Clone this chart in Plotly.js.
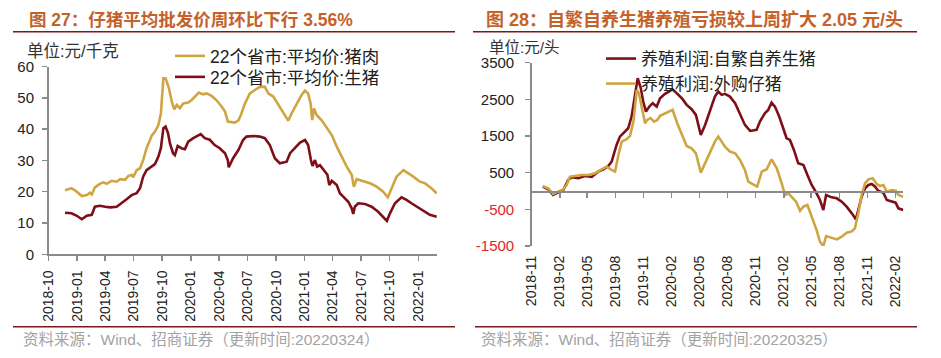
<!DOCTYPE html>
<html><head><meta charset="utf-8">
<script src="https://cdn.plot.ly/plotly-3.0.1.min.js"></script>
<style>html,body{margin:0;padding:0;background:#fff;}#chart{width:941px;height:358px;}</style>
</head><body><div id="chart"></div>
<script>
// ---------- Data: 图27 (元/千克) ----------
const porkDates = ['2018-11-23','2018-12-14','2018-12-31','2019-01-16','2019-02-01','2019-02-11','2019-02-17','2019-02-27','2019-03-15','2019-03-26',
'2019-04-06','2019-04-22','2019-05-08','2019-05-19','2019-06-04','2019-06-14','2019-06-25','2019-06-30','2019-07-11','2019-07-22',
'2019-08-01','2019-08-12','2019-08-23','2019-08-28','2019-09-08','2019-09-19','2019-09-27','2019-10-05','2019-10-12','2019-10-23',
'2019-11-01','2019-11-09','2019-11-17','2019-11-27','2019-12-08','2019-12-24','2020-01-04','2020-01-15','2020-01-27','2020-02-10',
'2020-02-21','2020-03-08','2020-03-24','2020-04-09','2020-04-20','2020-04-29','2020-05-22','2020-06-02','2020-06-10','2020-06-23',
'2020-07-09','2020-07-25','2020-08-10','2020-08-26','2020-09-06','2020-09-22','2020-10-08','2020-10-24','2020-11-09','2020-11-20',
'2020-12-06','2020-12-22','2021-01-02','2021-01-12','2021-01-20','2021-01-25','2021-01-31','2021-02-08','2021-02-24','2021-03-13',
'2021-03-29','2021-04-14','2021-04-30','2021-05-16','2021-06-01','2021-06-08','2021-06-17','2021-07-08','2021-07-30','2021-08-20',
'2021-09-10','2021-09-25','2021-10-07','2021-10-23','2021-11-14','2021-11-30','2021-12-16','2022-01-06','2022-01-22','2022-02-12','2022-03-01'];
const porkPrice = [20.5,21.1,20.0,18.6,18.9,19.7,19.1,21.4,22.5,23.0,
22.5,23.5,23.2,24.0,23.8,25.0,25.4,24.6,26.9,27.5,
30.1,33.9,36.5,37.8,39.2,41.3,45.0,56.2,56.2,53.0,
48.8,46.3,47.7,46.7,48.2,48.5,49.3,50.4,51.7,51.1,
51.4,50.6,49.2,47.2,45.6,42.4,42.1,42.8,44.5,48.2,
51.4,52.5,53.5,53.5,51.4,50.4,47.7,45.0,42.7,45.0,
48.2,50.9,52.3,51.4,48.2,42.9,46.6,44.5,42.9,40.3,
38.1,34.4,31.2,28.0,25.4,21.6,24.0,23.4,22.7,21.6,
20.0,18.2,21.1,24.8,26.9,25.9,24.8,23.2,22.7,21.1,19.5];

const hogDates = ['2018-11-23','2018-12-14','2018-12-31','2019-01-16','2019-02-01','2019-02-17','2019-02-27','2019-03-15','2019-04-01','2019-04-17',
'2019-05-08','2019-05-24','2019-06-09','2019-06-25','2019-07-11','2019-07-22','2019-08-01','2019-08-12','2019-08-28','2019-09-08',
'2019-09-19','2019-09-27','2019-10-05','2019-10-12','2019-10-20','2019-10-26','2019-11-05','2019-11-11','2019-11-20','2019-12-02',
'2019-12-13','2019-12-24','2020-01-09','2020-01-25','2020-02-02','2020-02-15','2020-03-02','2020-03-18','2020-04-03','2020-04-20',
'2020-04-29','2020-05-02','2020-05-16','2020-06-02','2020-06-17','2020-06-28','2020-07-20','2020-08-10','2020-08-26','2020-09-11',
'2020-09-27','2020-10-13','2020-11-04','2020-11-15','2020-12-01','2020-12-17','2021-01-02','2021-01-12','2021-01-21','2021-01-26',
'2021-02-03','2021-02-10','2021-02-19','2021-03-07','2021-03-15','2021-03-21','2021-03-29','2021-04-14','2021-04-24','2021-05-04',
'2021-05-21','2021-06-01','2021-06-06','2021-06-11','2021-06-22','2021-07-13','2021-08-04','2021-08-25','2021-09-10','2021-09-22',
'2021-10-02','2021-10-18','2021-11-08','2021-11-24','2021-12-10','2021-12-27','2022-01-12','2022-01-28','2022-02-07','2022-03-01'];
const hogPrice = [13.3,13.1,12.3,11.2,12.3,12.6,15.2,15.5,15.2,15.0,
15.2,16.3,17.6,18.9,19.5,21.1,24.8,26.9,28.0,28.8,
31.2,33.9,40.3,40.8,38.7,35.5,32.3,31.7,34.6,33.9,
33.6,36.0,37.1,38.1,38.4,37.1,36.6,34.9,33.9,32.3,
30.1,27.8,30.7,33.3,36.5,37.6,37.8,37.6,37.1,34.9,
30.7,29.1,29.6,32.3,33.9,35.7,36.5,34.9,30.1,28.2,
30.1,28.0,28.5,26.4,25.4,22.1,23.5,22.1,19.5,18.5,
16.8,14.7,12.9,15.2,16.3,16.1,15.2,13.6,12.0,10.7,
13.1,16.3,18.2,17.4,16.3,15.2,14.2,13.1,12.6,12.0];

// ---------- Data: 图28 (元/头) ----------
const selfDates = ['2018-12-07','2018-12-25','2019-01-10','2019-01-27','2019-02-12','2019-02-28','2019-03-12','2019-04-02','2019-04-24','2019-05-16',
'2019-06-06','2019-06-23','2019-07-09','2019-07-20','2019-08-05','2019-08-16','2019-09-01','2019-09-12','2019-09-23','2019-10-04',
'2019-10-13','2019-10-23','2019-10-31','2019-11-09','2019-11-20','2019-12-01','2019-12-14','2019-12-25','2020-01-10','2020-01-23',
'2020-02-03','2020-02-17','2020-03-05','2020-03-21','2020-04-06','2020-04-20','2020-05-06','2020-05-20','2020-06-05','2020-06-21',
'2020-07-02','2020-07-13','2020-07-24','2020-08-09','2020-08-26','2020-09-11','2020-09-27','2020-10-14','2020-11-04','2020-11-15',
'2020-12-01','2020-12-12','2020-12-23','2021-01-03','2021-01-17','2021-01-30','2021-02-10','2021-02-21','2021-03-06','2021-03-20',
'2021-04-06','2021-04-19','2021-05-03','2021-05-16','2021-05-30','2021-06-10','2021-06-19','2021-07-07','2021-07-24','2021-08-09',
'2021-08-25','2021-09-11','2021-09-24','2021-10-02','2021-10-13','2021-10-24','2021-11-04','2021-11-15','2021-11-26','2021-12-06',
'2021-12-23','2022-01-03','2022-01-19','2022-02-01','2022-02-10','2022-02-26'];
const selfProfit = [118,46,-109,-46,27,300,374,347,410,383,
528,592,683,801,1257,1484,1620,1712,2030,2576,
3079,2806,2440,2167,2303,2396,2303,2532,2650,2713,
2778,2669,2532,2350,2232,2076,1530,1803,2213,2576,
2713,2622,2650,2576,2396,2076,1803,1639,1667,1894,
2122,2213,2413,2303,2030,1712,1439,1394,1120,756,
710,437,164,-18,-246,-519,-109,-173,-200,-291,
-428,-610,-774,-519,-155,73,164,191,118,9,
-46,-246,-291,-319,-473,-519];

const buyDates = ['2018-12-07','2018-12-25','2019-01-10','2019-01-27','2019-02-12','2019-02-23','2019-03-06','2019-03-22','2019-04-13','2019-05-05',
'2019-05-27','2019-06-17','2019-07-04','2019-07-20','2019-07-31','2019-08-11','2019-08-22','2019-09-07','2019-09-18','2019-09-29',
'2019-10-10','2019-10-17','2019-10-26','2019-11-06','2019-11-13','2019-11-24','2019-12-05','2019-12-16','2019-12-25','2020-01-16',
'2020-02-04','2020-02-19','2020-03-07','2020-03-21','2020-04-06','2020-04-20','2020-05-06','2020-05-20','2020-06-05','2020-06-21',
'2020-07-02','2020-07-16','2020-07-24','2020-08-09','2020-08-26','2020-09-11','2020-09-27','2020-10-08','2020-10-24','2020-11-06',
'2020-11-21','2020-12-07','2020-12-23','2021-01-09','2021-01-25','2021-02-05','2021-02-16','2021-02-27','2021-03-13','2021-03-26',
'2021-04-06','2021-04-19','2021-05-03','2021-05-19','2021-05-30','2021-06-10','2021-06-19','2021-07-07','2021-07-24','2021-08-09',
'2021-08-25','2021-09-11','2021-09-21','2021-10-02','2021-10-13','2021-10-24','2021-11-04','2021-11-18','2021-12-01','2021-12-12',
'2021-12-23','2022-01-03','2022-01-19','2022-02-01','2022-02-10','2022-02-26'];
const buyProfit = [137,73,-82,-27,46,164,392,410,437,437,
483,592,665,574,528,984,1348,1412,1503,1894,
2759,2669,2303,1849,1940,1986,1894,1940,2049,2140,
2213,1849,1484,1229,1165,1029,501,756,1075,1348,
1484,1302,1211,1075,1029,847,574,255,191,118,
528,592,865,619,210,-109,-64,-155,-291,-537,
-428,-382,-701,-1065,-1384,-1500,-1229,-1266,-1320,-1247,
-1139,-1102,-1020,-610,-109,210,319,347,191,137,
164,-18,27,9,-109,-155];

const rightTickValues = [-1500,-500,500,1500,2500,3500];

const names = {
  pork: '22个省市:平均价:猪肉',
  hog: '22个省市:平均价:生猪',
  self: '养殖利润:自繁自养生猪',
  buy: '养殖利润:外购仔猪'
};
const texts = {
  title1: '图 27：仔猪平均批发价周环比下行 3.56%',
  title2: '图 28：自繁自养生猪养殖亏损较上周扩大 2.05 元/头',
  unit1: '单位:元/千克',
  unit2: '单位:元/头',
  src1: '资料来源：Wind、招商证券（更新时间:20220324）',
  src2: '资料来源：Wind、招商证券（更新时间:20220325）'
};

// ---------- Styling ----------
const GOLD = '#CFA542', RED = '#7E0F18', AXIS = '#8a8a8a';
const FONT = 'Liberation Sans, Arial, Noto Sans CJK SC, sans-serif';
const rightTickText = rightTickValues.map(v => v < 0 ? '<span style="color:#e0262a">' + v + '</span>' : String(v));

const traces = [
  {x: porkDates, y: porkPrice, name: names.pork, type: 'scatter', mode: 'lines', xaxis: 'x', yaxis: 'y', legend: 'legend',
   line: {color: GOLD, width: 2.6}},
  {x: hogDates, y: hogPrice, name: names.hog, type: 'scatter', mode: 'lines', xaxis: 'x', yaxis: 'y', legend: 'legend3',
   line: {color: RED, width: 2.6}},
  {x: selfDates, y: selfProfit, name: names.self, type: 'scatter', mode: 'lines', xaxis: 'x2', yaxis: 'y2', legend: 'legend2',
   line: {color: RED, width: 2.6}},
  {x: buyDates, y: buyProfit, name: names.buy, type: 'scatter', mode: 'lines', xaxis: 'x2', yaxis: 'y2', legend: 'legend4',
   line: {color: GOLD, width: 2.6}},
  {x: [], y: [], xaxis: 'x3', yaxis: 'y2', type: 'scatter', mode: 'lines', showlegend: false, hoverinfo: 'skip'}
];

const W = 941, H = 358;
const px = v => v / W, py = v => 1 - v / H;
const legendStyle = (x, top, size) => ({x: px(x), y: py(top), xanchor: 'left', yanchor: 'top', bgcolor: 'rgba(0,0,0,0)',
  font: {size: size, color: '#222'}, itemwidth: 30});

const layout = {
  width: W, height: H, margin: {l: 0, r: 0, t: 0, b: 0, pad: 0},
  paper_bgcolor: '#fff', plot_bgcolor: 'rgba(0,0,0,0)',
  font: {family: FONT, color: '#222', size: 14},
  xaxis: {domain: [px(48.5), px(437)], anchor: 'y', type: 'date', range: ['2018-10-01', '2022-03-02'],
    tick0: '2018-10-01', dtick: 'M3', tickformat: '%Y-%m', tickangle: -90, ticks: 'outside', ticklen: 5,
    tickcolor: AXIS, tickwidth: 1.5, showline: true, linecolor: AXIS, linewidth: 1.5, showgrid: false, zeroline: false,
    tickfont: {size: 14, color: '#222'}, ticklabelstandoff: 4, fixedrange: true},
  yaxis: {domain: [py(254.3), py(66.5)], anchor: 'x', range: [0, 60], dtick: 10, tick0: 0, ticks: 'outside', ticklen: 5,
    tickcolor: AXIS, tickwidth: 1.5, showline: true, linecolor: AXIS, linewidth: 1.5, showgrid: false, zeroline: false,
    tickfont: {size: 15, color: '#222'}, ticklabelstandoff: 5, fixedrange: true},
  xaxis2: {domain: [px(531.7), px(903.3)], anchor: 'y2', type: 'date', range: ['2018-11-01', '2022-02-26'],
    tick0: '2018-11-01', dtick: 'M3', tickformat: '%Y-%m', tickangle: -90, ticks: '', showline: false,
    showgrid: false, zeroline: false, tickfont: {size: 14, color: '#222'}, ticklabelstandoff: 6, fixedrange: true},
  xaxis3: {domain: [px(531.7), px(903.3)], overlaying: 'x2', anchor: 'free', position: py(191), type: 'date',
    range: ['2018-11-01', '2022-02-26'], tick0: '2018-11-01', dtick: 'M3', ticks: 'outside', ticklen: 5,
    tickcolor: AXIS, tickwidth: 1.5, showticklabels: false, showline: true, linecolor: AXIS, linewidth: 1.5,
    showgrid: false, zeroline: false, fixedrange: true},
  yaxis2: {domain: [py(246), py(62.7)], anchor: 'x2', range: [-1500, 3500], tickvals: rightTickValues, ticktext: rightTickText,
    ticks: 'outside', ticklen: 5, tickcolor: AXIS, tickwidth: 1.5, showline: true, linecolor: AXIS, linewidth: 1.5,
    showgrid: false, zeroline: false, tickfont: {size: 15, color: '#222'}, ticklabelstandoff: 8, fixedrange: true},
  legend: legendStyle(170, 38, 17.5),
  legend3: legendStyle(170, 59, 17.5),
  legend2: legendStyle(601, 41, 17),
  legend4: legendStyle(601, 66, 17),
  shapes: [
    {type: 'line', xref: 'paper', yref: 'paper', x0: px(13), x1: px(455), y0: py(31.7), y1: py(31.7), line: {color: '#7a1a1a', width: 1.6}},
    {type: 'line', xref: 'paper', yref: 'paper', x0: px(473), x1: px(917), y0: py(31.7), y1: py(31.7), line: {color: '#7a1a1a', width: 1.6}},
    {type: 'line', xref: 'paper', yref: 'paper', x0: px(13), x1: px(455), y0: py(326.7), y1: py(326.7), line: {color: '#7a1a1a', width: 1.6}},
    {type: 'line', xref: 'paper', yref: 'paper', x0: px(475), x1: px(917), y0: py(326.7), y1: py(326.7), line: {color: '#7a1a1a', width: 1.6}}
  ],
  annotations: [
    {text: '<b>' + texts.title1 + '</b>', xref: 'paper', yref: 'paper', x: px(191), y: py(19.5), xanchor: 'center', yanchor: 'middle',
     showarrow: false, font: {size: 17.5, color: '#C4622A', family: FONT}},
    {text: '<b>' + texts.title2 + '</b>', xref: 'paper', yref: 'paper', x: px(694), y: py(19.5), xanchor: 'center', yanchor: 'middle',
     showarrow: false, font: {size: 18, color: '#C4622A', family: FONT}},
    {text: texts.unit1, xref: 'paper', yref: 'paper', x: px(25), y: py(50.7), xanchor: 'left', yanchor: 'middle',
     showarrow: false, font: {size: 16.5, color: '#333', family: FONT}},
    {text: texts.unit2, xref: 'paper', yref: 'paper', x: px(486.7), y: py(47.5), xanchor: 'left', yanchor: 'middle',
     showarrow: false, font: {size: 15.5, color: '#333', family: FONT}},
    {text: texts.src1, xref: 'paper', yref: 'paper', x: px(201), y: py(339.3), xanchor: 'center', yanchor: 'middle',
     showarrow: false, font: {size: 15.5, color: '#a3a3a3', family: FONT}},
    {text: texts.src2, xref: 'paper', yref: 'paper', x: px(659), y: py(339.3), xanchor: 'center', yanchor: 'middle',
     showarrow: false, font: {size: 15.5, color: '#a3a3a3', family: FONT}}
  ],
  showlegend: true
};

Plotly.newPlot('chart', traces, layout, {displayModeBar: false, staticPlot: true});
</script>
</body></html>
